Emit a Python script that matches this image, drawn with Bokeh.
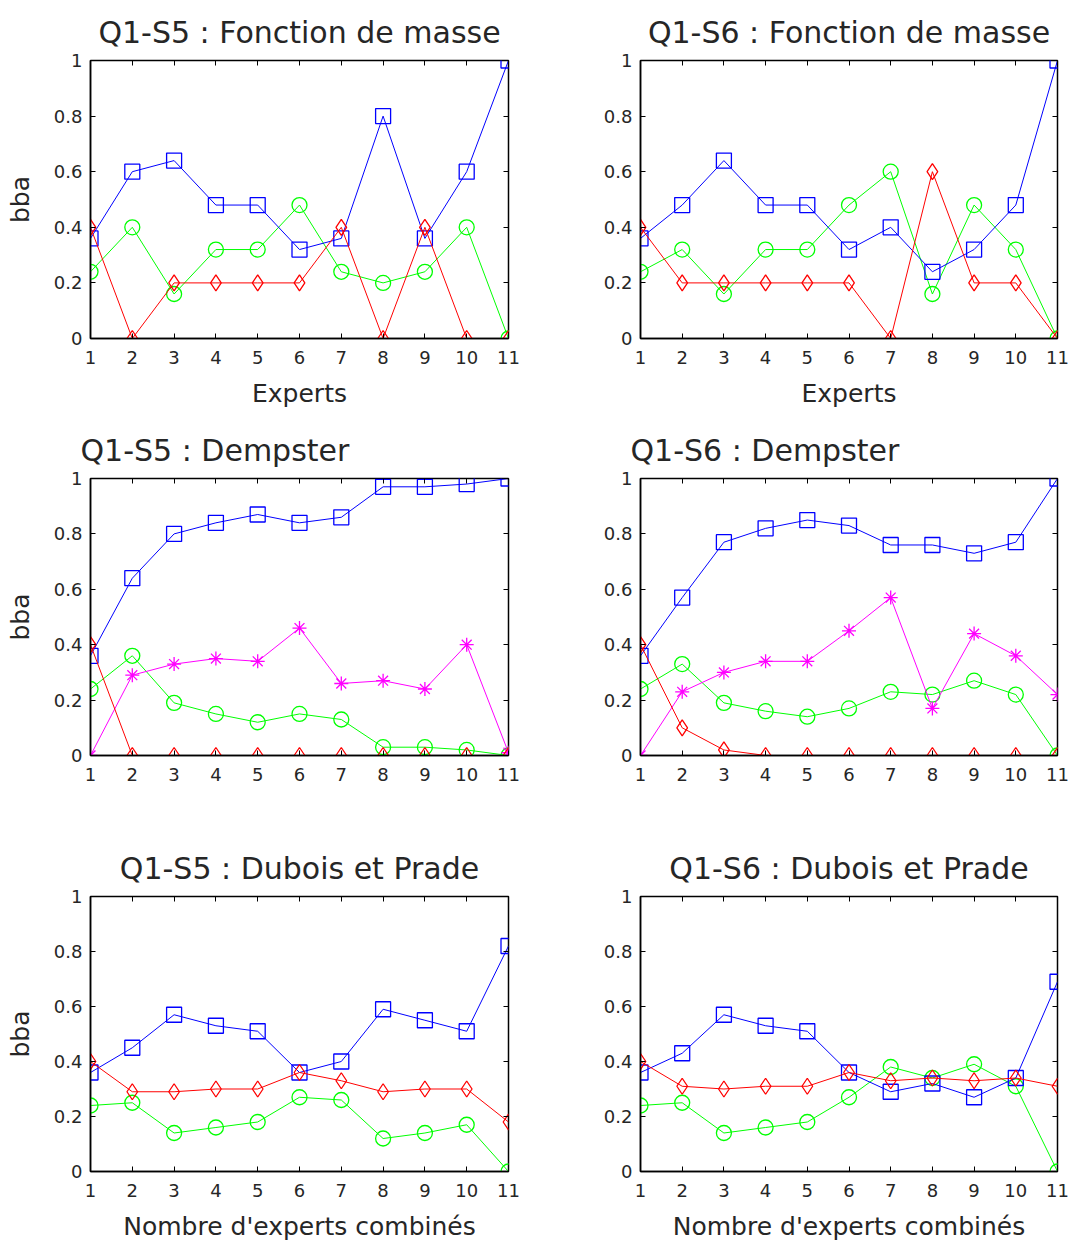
from bokeh.plotting import figure
from bokeh.layouts import column, row
from bokeh.models import LinearAxis, FixedTicker, Range1d
from bokeh.embed import file_html
from bokeh.resources import INLINE

# ---------------- data ----------------
experts = [1, 2, 3, 4, 5, 6, 7, 8, 9, 10, 11]
x_ticks = [1, 2, 3, 4, 5, 6, 7, 8, 9, 10, 11]
y_ticks = [0, 0.2, 0.4, 0.6, 0.8, 1]
y_tick_labels = ["0", "0.2", "0.4", "0.6", "0.8", "1"]

# Q1-S5 : Fonction de masse
s5_masse_blue = [0.36, 0.60, 0.64, 0.48, 0.48, 0.32, 0.36, 0.80, 0.36, 0.60, 1.00]
s5_masse_green = [0.24, 0.40, 0.16, 0.32, 0.32, 0.48, 0.24, 0.20, 0.24, 0.40, 0.00]
s5_masse_red = [0.40, 0.00, 0.20, 0.20, 0.20, 0.20, 0.40, 0.00, 0.40, 0.00, 0.00]

# Q1-S6 : Fonction de masse
s6_masse_blue = [0.36, 0.48, 0.64, 0.48, 0.48, 0.32, 0.40, 0.24, 0.32, 0.48, 1.00]
s6_masse_green = [0.24, 0.32, 0.16, 0.32, 0.32, 0.48, 0.60, 0.16, 0.48, 0.32, 0.00]
s6_masse_red = [0.40, 0.20, 0.20, 0.20, 0.20, 0.20, 0.00, 0.60, 0.20, 0.20, 0.00]

# Q1-S5 : Dempster
s5_demp_blue = [0.36, 0.64, 0.80, 0.84, 0.87, 0.84, 0.86, 0.97, 0.97, 0.98, 1.00]
s5_demp_magenta = [0.00, 0.29, 0.33, 0.35, 0.34, 0.46, 0.26, 0.27, 0.24, 0.40, 0.01]
s5_demp_green = [0.24, 0.36, 0.19, 0.15, 0.12, 0.15, 0.13, 0.03, 0.03, 0.02, 0.00]
s5_demp_red = [0.40, 0.00, 0.00, 0.00, 0.00, 0.00, 0.00, 0.00, 0.00, 0.00, 0.00]

# Q1-S6 : Dempster
s6_demp_blue = [0.36, 0.57, 0.77, 0.82, 0.85, 0.83, 0.76, 0.76, 0.73, 0.77, 1.00]
s6_demp_magenta = [0.00, 0.23, 0.30, 0.34, 0.34, 0.45, 0.57, 0.17, 0.44, 0.36, 0.22]
s6_demp_green = [0.24, 0.33, 0.19, 0.16, 0.14, 0.17, 0.23, 0.22, 0.27, 0.22, 0.00]
s6_demp_red = [0.40, 0.10, 0.02, 0.00, 0.00, 0.00, 0.00, 0.00, 0.00, 0.00, 0.00]

# Q1-S5 : Dubois et Prade
s5_dp_blue = [0.36, 0.45, 0.57, 0.53, 0.51, 0.36, 0.40, 0.59, 0.55, 0.51, 0.82]
s5_dp_green = [0.24, 0.25, 0.14, 0.16, 0.18, 0.27, 0.26, 0.12, 0.14, 0.17, 0.00]
s5_dp_red = [0.40, 0.29, 0.29, 0.30, 0.30, 0.36, 0.33, 0.29, 0.30, 0.30, 0.18]

# Q1-S6 : Dubois et Prade
s6_dp_blue = [0.36, 0.43, 0.57, 0.53, 0.51, 0.36, 0.29, 0.32, 0.27, 0.34, 0.69]
s6_dp_green = [0.24, 0.25, 0.14, 0.16, 0.18, 0.27, 0.38, 0.34, 0.39, 0.31, 0.00]
s6_dp_red = [0.40, 0.31, 0.30, 0.31, 0.31, 0.36, 0.33, 0.34, 0.33, 0.34, 0.31]

# ---------------- styling ----------------
FONT = "DejaVu Sans"
TXT = "#262626"
BLUE, GREEN, RED, MAGENTA = "#0000FF", "#00FF00", "#FF0000", "#FF00FF"
MSIZE = {"square": 15, "circle": 15, "diamond": 16, "asterisk": 14}


def tick_only_axis(ticks):
    return LinearAxis(ticker=FixedTicker(ticks=ticks),
                      major_label_text_font_size="0px", major_label_text_color=None,
                      major_tick_in=5, major_tick_out=0, axis_line_color=None,
                      minor_tick_line_color=None, major_label_standoff=0,
                      major_tick_line_color="black")


def make_panel(title, width, height, bl, br, bt, bb, xlabel, ylabel, series,
               title_align="center", title_offset=0):
    p = figure(width=width, height=height,
               x_range=Range1d(1, 11), y_range=Range1d(0, 1),
               output_backend="svg", toolbar_location=None,
               min_border_left=bl, min_border_right=br,
               min_border_top=bt, min_border_bottom=bb,
               background_fill_color="white", border_fill_color="white")
    p.title.text = title
    p.title.text_font = FONT
    p.title.text_font_size = "30px"
    p.title.text_font_style = "normal"
    p.title.text_color = TXT
    p.title.align = title_align
    p.title.offset = title_offset
    p.title.standoff = 22

    p.outline_line_color = "black"
    p.outline_line_width = 1.5
    p.outline_line_alpha = 1.0
    p.xgrid.visible = False
    p.ygrid.visible = False

    for ax in (p.xaxis[0], p.yaxis[0]):
        ax.major_tick_in = 5
        ax.major_tick_out = 0
        ax.minor_tick_line_color = None
        ax.axis_line_color = "black"
        ax.axis_line_width = 1.5
        ax.major_tick_line_color = "black"
        ax.major_label_text_font = FONT
        ax.major_label_text_font_size = "18px"
        ax.major_label_text_color = TXT
        ax.axis_label_text_font = FONT
        ax.axis_label_text_font_size = "25px"
        ax.axis_label_text_font_style = "normal"
        ax.axis_label_text_color = TXT

    p.xaxis.ticker = FixedTicker(ticks=x_ticks)
    p.yaxis.ticker = FixedTicker(ticks=y_ticks)
    p.yaxis.major_label_overrides = {v: l for v, l in zip(y_ticks, y_tick_labels)}
    p.xaxis.major_label_standoff = 12
    p.yaxis.major_label_standoff = 8
    if xlabel:
        p.xaxis.axis_label = xlabel
        p.xaxis.axis_label_standoff = 12
    if ylabel:
        p.yaxis.axis_label = ylabel
        p.yaxis.axis_label_standoff = 16

    p.add_layout(tick_only_axis(x_ticks), "above")
    p.add_layout(tick_only_axis(y_ticks), "right")

    for ys, color, marker in series:
        p.line(experts, ys, line_color=color, line_width=1)
        p.scatter(experts, ys, marker=marker, size=MSIZE[marker],
                  line_color=color, fill_color=None, line_width=1.3)
    return p


LW, RW = 548, 521
LBL, LBR = 90, 40
RBL, RBR = 92, 12

p1 = make_panel("Q1-S5 : Fonction de masse", LW, 418, LBL, LBR, 60, 80, "Experts", "bba",
                [(s5_masse_green, GREEN, "circle"), (s5_masse_blue, BLUE, "square"),
                 (s5_masse_red, RED, "diamond")])
p2 = make_panel("Q1-S6 : Fonction de masse", RW, 418, RBL, RBR, 60, 80, "Experts", None,
                [(s6_masse_green, GREEN, "circle"), (s6_masse_blue, BLUE, "square"),
                 (s6_masse_red, RED, "diamond")])
p3 = make_panel("Q1-S5 : Dempster", LW, 418, LBL, LBR, 60, 81, None, "bba",
                [(s5_demp_green, GREEN, "circle"), (s5_demp_blue, BLUE, "square"),
                 (s5_demp_magenta, MAGENTA, "asterisk"), (s5_demp_red, RED, "diamond")],
                title_align="left", title_offset=-10)
p4 = make_panel("Q1-S6 : Dempster", RW, 418, RBL, RBR, 60, 81, None, None,
                [(s6_demp_green, GREEN, "circle"), (s6_demp_blue, BLUE, "square"),
                 (s6_demp_magenta, MAGENTA, "asterisk"), (s6_demp_red, RED, "diamond")],
                title_align="left", title_offset=-10)
p5 = make_panel("Q1-S5 : Dubois et Prade", LW, 407, LBL, LBR, 60, 70,
                "Nombre d'experts combinés", "bba",
                [(s5_dp_green, GREEN, "circle"), (s5_dp_blue, BLUE, "square"),
                 (s5_dp_red, RED, "diamond")])
p6 = make_panel("Q1-S6 : Dubois et Prade", RW, 407, RBL, RBR, 60, 70,
                "Nombre d'experts combinés", None,
                [(s6_dp_green, GREEN, "circle"), (s6_dp_blue, BLUE, "square"),
                 (s6_dp_red, RED, "diamond")])

layout = column(row(p1, p2), row(p3, p4), row(p5, p6))

open("out.html", "w").write(file_html(layout, INLINE))
